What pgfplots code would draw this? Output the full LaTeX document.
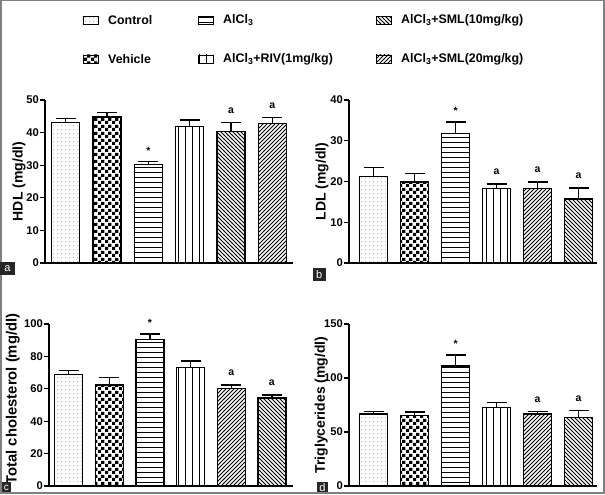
\documentclass[border=0pt]{standalone}
\usepackage{pgfplots}
\pgfplotsset{compat=1.18}
\usepackage{fontspec}
\setmainfont{Liberation Sans}
\usetikzlibrary{patterns}

\pgfdeclarepatternformonly{pdots}{\pgfpointorigin}{\pgfqpoint{4pt}{4pt}}{\pgfqpoint{4pt}{4pt}}{\pgfpathcircle{\pgfqpoint{2pt}{2pt}}{0.55pt}\pgfusepath{fill}}
\pgfdeclarepatternformonly{pcheck}{\pgfpointorigin}{\pgfqpoint{7pt}{7pt}}{\pgfqpoint{7pt}{7pt}}{\pgfpathrectangle{\pgfpointorigin}{\pgfqpoint{3.5pt}{3.5pt}}\pgfpathrectangle{\pgfqpoint{3.5pt}{3.5pt}}{\pgfqpoint{3.5pt}{3.5pt}}\pgfusepath{fill}}
\pgfdeclarepatternformonly{phl}{\pgfqpoint{-0.5pt}{0pt}}{\pgfqpoint{5.5pt}{5pt}}{\pgfqpoint{5pt}{5pt}}{\pgfsetlinewidth{1pt}\pgfpathmoveto{\pgfqpoint{-0.5pt}{2.5pt}}\pgfpathlineto{\pgfqpoint{5.5pt}{2.5pt}}\pgfusepath{stroke}}
\pgfdeclarepatternformonly{pvl}{\pgfqpoint{0pt}{-0.5pt}}{\pgfqpoint{7pt}{7.5pt}}{\pgfqpoint{7pt}{7pt}}{\pgfsetlinewidth{1pt}\pgfpathmoveto{\pgfqpoint{3.5pt}{-0.5pt}}\pgfpathlineto{\pgfqpoint{3.5pt}{7.5pt}}\pgfusepath{stroke}}
\pgfdeclarepatternformonly{pne}{\pgfqpoint{-1pt}{-1pt}}{\pgfqpoint{5pt}{5pt}}{\pgfqpoint{4pt}{4pt}}{\pgfsetlinewidth{0.85pt}\pgfpathmoveto{\pgfqpoint{0pt}{0pt}}\pgfpathlineto{\pgfqpoint{4.1pt}{4.1pt}}\pgfusepath{stroke}}
\pgfdeclarepatternformonly{pnw}{\pgfqpoint{-1pt}{-1pt}}{\pgfqpoint{5pt}{5pt}}{\pgfqpoint{4pt}{4pt}}{\pgfsetlinewidth{0.85pt}\pgfpathmoveto{\pgfqpoint{0pt}{4pt}}\pgfpathlineto{\pgfqpoint{4.1pt}{-0.1pt}}\pgfusepath{stroke}}

\tikzset{
  sdots/.style={pattern=pdots, pattern color=gray},
  scheck/.style={pattern=pcheck, pattern color=black},
  shl/.style={pattern=phl, pattern color=black},
  svl/.style={pattern=pvl, pattern color=black},
  sne/.style={pattern=pne, pattern color=black},
  snw/.style={pattern=pnw, pattern color=black},
}

\newcommand{\mybar}[4]{\addplot[ybar, bar width=28pt, bar shift=0pt, draw=black, line width=1.3pt, #4,
  error bars/.cd, y dir=plus, y explicit,
  error bar style={line width=1.3pt, draw=black, solid},
  error mark options={rotate=90, mark size=10pt, line width=1.3pt, black, solid}]
  coordinates {(#1,#2) +- (0,#3)};}

\pgfplotsset{panel/.style={
  scale only axis, anchor=south west,
  axis x line*=bottom, axis y line*=left,
  axis line style={line width=1.3pt, -},
  xtick=\empty, tick align=outside, major tick length=5pt,
  ytick style={line width=1.2pt, black},
  tick label style={font=\bfseries\fontsize{11.2}{13}\selectfont},
  yticklabel style={inner sep=1pt},
  ylabel style={anchor=center, font=\bfseries\fontsize{14}{16}\selectfont},
  ymin=0, clip=false,
  /pgf/number format/assume math mode=true}}

\newcommand{\ann}{\bfseries\fontsize{10.5}{12}\selectfont}

\begin{document}
\begin{tikzpicture}
\useasboundingbox (0pt,0pt) rectangle (605pt,495pt);
\draw[gray, line width=1.5pt] (0.75pt,2pt) rectangle (604pt,494.25pt);

% legend
\draw[line width=0.9pt, sdots]  (83pt,470.5pt) rectangle (98pt,478.5pt);
\node[anchor=west, inner sep=0pt, font=\bfseries\fontsize{12.4}{14}\selectfont] at (108pt,474.5pt) {Control};
\draw[line width=0.9pt, shl]  (198pt,470.5pt) rectangle (213pt,478.5pt);
\node[anchor=west, inner sep=0pt, font=\bfseries\fontsize{12.4}{14}\selectfont] at (223pt,474.5pt) {AlCl\textsubscript{3}};
\draw[line width=0.9pt, snw]  (376pt,470.5pt) rectangle (391pt,478.5pt);
\node[anchor=west, inner sep=0pt, font=\bfseries\fontsize{12.4}{14}\selectfont] at (401pt,474.5pt) {AlCl\textsubscript{3}+SML(10mg/kg)};
\draw[line width=0.9pt, scheck]  (83pt,432pt) rectangle (98pt,440pt);
\node[anchor=west, inner sep=0pt, font=\bfseries\fontsize{12.4}{14}\selectfont] at (108pt,436pt) {Vehicle};
\draw[line width=0.9pt, svl]  (198pt,432pt) rectangle (213pt,440pt);
\node[anchor=west, inner sep=0pt, font=\bfseries\fontsize{12.4}{14}\selectfont] at (223pt,436pt) {AlCl\textsubscript{3}+RIV(1mg/kg)};
\draw[line width=0.9pt, sne]  (376pt,432pt) rectangle (391pt,440pt);
\node[anchor=west, inner sep=0pt, font=\bfseries\fontsize{12.4}{14}\selectfont] at (401pt,436pt) {AlCl\textsubscript{3}+SML(20mg/kg)};

% panel a
\begin{axis}[panel, at={(45pt,232pt)}, width=248pt, height=163pt,
  xmin=-0.5, xmax=5.5, ymax=50, ytick={0,10,20,30,40,50},
  ylabel={HDL (mg/dl)}, ylabel style={at={(axis description cs:-0.105,0.5)}}]
\mybar{0}{43.2}{1.1}{sdots}
\mybar{1}{44.8}{1.4}{scheck}
\mybar{2}{30.2}{0.9}{shl}
\mybar{3}{41.8}{2.1}{svl}
\mybar{4}{40.3}{2.8}{snw}
\mybar{5}{42.7}{1.9}{sne}
\node[font=\ann, inner sep=0pt, yshift=11pt] at (axis cs:2,31.1) {*};
\node[font=\ann, inner sep=0pt, yshift=12pt] at (axis cs:4,43.1) {a};
\node[font=\ann, inner sep=0pt, yshift=12pt] at (axis cs:5,44.6) {a};
\end{axis}

% panel b
\begin{axis}[panel, at={(349pt,232pt)}, width=248pt, height=163pt,
  xmin=-0.6, xmax=5.45, ymax=40, ytick={0,10,20,30,40},
  ylabel={LDL (mg/dl)}, ylabel style={at={(axis description cs:-0.109,0.5)}}]
\mybar{0}{21.3}{2.2}{sdots}
\mybar{1}{19.9}{2.1}{scheck}
\mybar{2}{31.8}{2.8}{shl}
\mybar{3}{18.3}{1.1}{svl}
\mybar{4}{18.2}{1.7}{sne}
\mybar{5}{15.7}{2.7}{snw}
\node[font=\ann, inner sep=0pt, yshift=11pt] at (axis cs:2,34.6) {*};
\node[font=\ann, inner sep=0pt, yshift=12pt] at (axis cs:3,19.4) {a};
\node[font=\ann, inner sep=0pt, yshift=12pt] at (axis cs:4,19.9) {a};
\node[font=\ann, inner sep=0pt, yshift=12pt] at (axis cs:5,18.4) {a};
\end{axis}

% panel c
\begin{axis}[panel, at={(49pt,9pt)}, width=244pt, height=162pt,
  xmin=-0.48, xmax=5.52, ymax=100, ytick={0,20,40,60,80,100},
  ylabel={Total cholesterol (mg/dl)},
  ylabel style={at={(axis description cs:-0.148,0.537)}, font=\bfseries\fontsize{14.8}{16}\selectfont}]
\mybar{0}{68.7}{2.8}{sdots}
\mybar{1}{62.3}{4.5}{scheck}
\mybar{2}{90.5}{3.3}{shl}
\mybar{3}{73.2}{3.9}{svl}
\mybar{4}{60.0}{2.3}{sne}
\mybar{5}{54.4}{1.7}{snw}
\node[font=\ann, inner sep=0pt, yshift=11pt] at (axis cs:2,93.8) {*};
\node[font=\ann, inner sep=0pt, yshift=12pt] at (axis cs:4,62.3) {a};
\node[font=\ann, inner sep=0pt, yshift=12pt] at (axis cs:5,56.1) {a};
\end{axis}

% panel d
\begin{axis}[panel, at={(349pt,9pt)}, width=248pt, height=162pt,
  xmin=-0.6, xmax=5.45, ymax=150, ytick={0,50,100,150},
  ylabel={Triglycerides (mg/dl)}, ylabel style={at={(axis description cs:-0.112,0.5)}}]
\mybar{0}{66.7}{2.1}{sdots}
\mybar{1}{65.4}{3.1}{scheck}
\mybar{2}{111.1}{10.2}{shl}
\mybar{3}{72.8}{4.4}{svl}
\mybar{4}{66.7}{2.4}{sne}
\mybar{5}{63.3}{6.8}{snw}
\node[font=\ann, inner sep=0pt, yshift=11pt] at (axis cs:2,121.3) {*};
\node[font=\ann, inner sep=0pt, yshift=12pt] at (axis cs:4,69.1) {a};
\node[font=\ann, inner sep=0pt, yshift=12pt] at (axis cs:5,70.1) {a};
\end{axis}

% panel letters
\fill[black!85] (0pt,220pt) rectangle (15pt,233pt);
\node[text=white, font=\fontsize{11}{12}\selectfont, inner sep=0pt] at (7.5pt,226.5pt) {a};
\fill[black!85] (313pt,214pt) rectangle (325.5pt,227pt);
\node[text=white, font=\fontsize{11}{12}\selectfont, inner sep=0pt] at (319.25pt,220.5pt) {b};
\fill[black!85] (1.5pt,2.75pt) rectangle (11pt,12.5pt);
\node[text=white, font=\fontsize{10}{12}\selectfont, inner sep=0pt] at (6.25pt,7.5pt) {c};
\fill[black!85] (317pt,2.75pt) rectangle (328pt,13pt);
\node[text=white, font=\fontsize{11}{12}\selectfont, inner sep=0pt] at (322.5pt,7.5pt) {d};
\end{tikzpicture}
\end{document}
